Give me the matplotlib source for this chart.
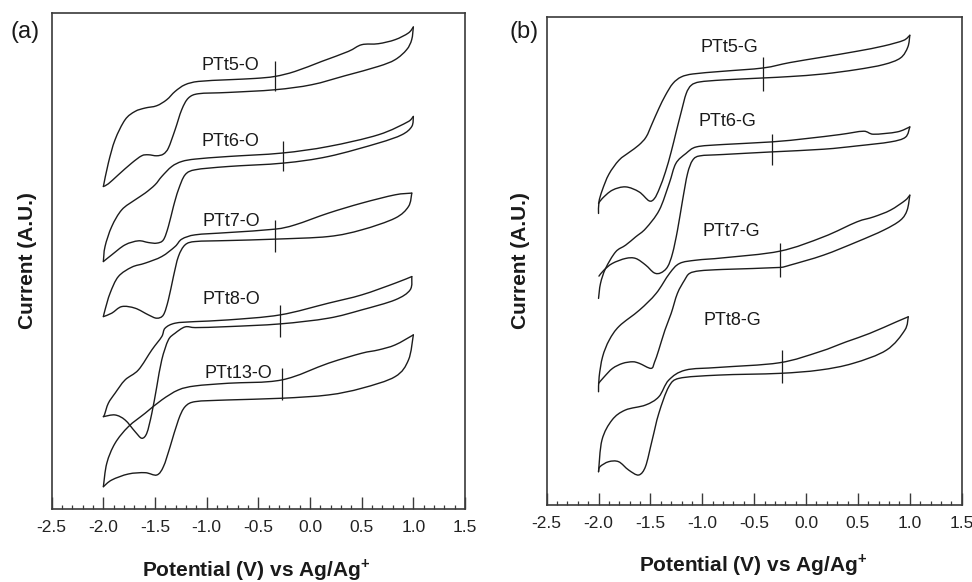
import numpy as np
import matplotlib
matplotlib.use("Agg")
import matplotlib.pyplot as plt
from matplotlib.ticker import MultipleLocator, FormatStrFormatter
from matplotlib.path import Path
from matplotlib.patches import PathPatch

plt.rcParams['font.family'] = ['Liberation Sans', 'DejaVu Sans']
plt.rcParams['mathtext.fontset'] = 'custom'
plt.rcParams['mathtext.rm'] = 'Liberation Sans'
plt.rcParams['mathtext.bf'] = 'Liberation Sans:bold'
plt.rcParams['axes.unicode_minus'] = False

# ---------------- Panel (a) data: potential (V) / current (A.U.) ----------------
ptt5_o_up_x = [-2.0, -1.952, -1.887, -1.79, -1.694, -1.597, -1.484, -1.387, -1.306, -1.21, -1.081, -0.79, -0.532, -0.339, -0.145, 0.113, 0.371, 0.5, 0.661, 0.823, 0.952, 1.0]
ptt5_o_up_y = [322.3, 345.7, 369, 389, 397.3, 400.7, 403, 409, 417.3, 424, 427.3, 429, 430.3, 432.3, 437.3, 447.3, 457.3, 464, 465, 469, 475.7, 481.7]
ptt5_o_dn_x = [1.0, 0.984, 0.935, 0.823, 0.661, 0.339, 0.016, -0.339, -0.79, -1.081, -1.177, -1.242, -1.306, -1.371, -1.419, -1.484, -1.565, -1.629, -1.726, -1.855, -1.952, -2.0]
ptt5_o_dn_y = [481.7, 469, 459, 449, 442.3, 433, 424, 419, 416.3, 415, 410.7, 399, 379, 360.7, 354.7, 353, 354, 353, 345.7, 334, 325, 322.3]

ptt6_o_up_x = [-2.0, -1.984, -1.919, -1.822, -1.693, -1.596, -1.5, -1.435, -1.338, -1.241, -1.112, -0.79, -0.273, 0.178, 0.662, 0.953, 1.0]
ptt6_o_up_y = [247.3, 262.3, 282.3, 299, 309, 315.7, 324, 332.3, 342.3, 347.3, 349.7, 352.3, 355.7, 362.3, 374, 387.3, 392.3]
ptt6_o_dn_x = [1.0, 0.985, 0.889, 0.662, 0.178, -0.258, -0.79, -1.112, -1.209, -1.274, -1.322, -1.371, -1.419, -1.483, -1.564, -1.661, -1.79, -1.919, -2.0]
ptt6_o_dn_y = [392.3, 382.3, 374, 365.7, 352.3, 345.7, 342.3, 339, 334, 319, 302.3, 282.3, 269, 265.7, 266.3, 268, 264, 254, 247.3]

ptt7_o_up_x = [-2.0, -1.984, -1.935, -1.855, -1.725, -1.596, -1.435, -1.306, -1.241, -1.112, -0.79, -0.338, -0.144, 0.178, 0.501, 0.824, 0.985]
ptt7_o_up_y = [192.3, 199, 215.7, 232.3, 241.7, 245.7, 252.3, 262.3, 269.7, 274, 276.3, 279.7, 284, 295.7, 305.7, 314, 315.7]
ptt7_o_dn_x = [0.985, 0.953, 0.824, 0.501, 0.178, -0.338, -0.79, -1.112, -1.209, -1.274, -1.322, -1.371, -1.419, -1.483, -1.564, -1.693, -1.822, -1.919, -2.0]
ptt7_o_dn_y = [315.7, 302.3, 290.7, 279, 272.3, 269.7, 268.3, 267.3, 264, 252.3, 232.3, 209, 194, 190.7, 194, 200.7, 202.3, 195.7, 192.3]

ptt8_o_up_x = [-2.0, -1.99, -1.952, -1.887, -1.79, -1.661, -1.531, -1.435, -1.403, -1.306, -1.112, -0.79, -0.289, 0.178, 0.501, 0.824, 0.985]
ptt8_o_up_y = [92.3, 94, 105.7, 115.7, 129, 139, 159, 172.3, 180.7, 185.7, 187.3, 189, 194, 205.7, 214, 225.7, 232.3]
ptt8_o_dn_x = [0.985, 0.969, 0.824, 0.501, 0.178, -0.289, -0.79, -1.112, -1.209, -1.306, -1.371, -1.435, -1.483, -1.531, -1.58, -1.628, -1.693, -1.79, -1.887, -2.0]
ptt8_o_dn_y = [232.3, 219, 209, 199, 190.7, 185, 182.3, 181.3, 182, 175.7, 169, 149, 122.3, 95.7, 75.7, 70.7, 77.3, 89, 94, 92.3]

ptt13_o_up_x = [-2.0, -1.967, -1.887, -1.758, -1.596, -1.435, -1.274, -1.112, -0.79, -0.273, 0.178, 0.501, 0.662, 0.824, 1.0]
ptt13_o_up_y = [22.3, 45.7, 65.7, 82.3, 95.7, 109, 119, 123, 125.7, 129, 145.7, 155.7, 159, 164, 174]
ptt13_o_dn_x = [1.0, 0.953, 0.824, 0.501, 0.178, -0.273, -0.79, -1.112, -1.209, -1.274, -1.354, -1.419, -1.483, -1.596, -1.758, -1.919, -2.0]
ptt13_o_dn_y = [174, 149, 132.3, 120.7, 114, 110.7, 109, 107.3, 102.3, 89, 62.3, 42.3, 34, 36.3, 35, 29, 22.3]

labels_a = ["PTt5-O", "PTt6-O", "PTt7-O", "PTt8-O", "PTt13-O"]
label_a_x = [-0.773, -0.773, -0.757, -0.757, -0.693]
label_a_y = [443, 367.3, 287.3, 209, 135.7]
marker_a_x = [-0.338, -0.258, -0.338, -0.289, -0.273]
marker_a_lo = [417.3, 337.3, 257.3, 172.3, 109]
marker_a_hi = [447.3, 367.3, 289, 204, 140.7]

# ---------------- Panel (b) data ----------------
ptt5_g_up_x = [-2.0, -1.996, -1.964, -1.9, -1.803, -1.703, -1.613, -1.541, -1.483, -1.419, -1.355, -1.284, -1.203, -1.09, -0.8, -0.413, -0.155, 0.168, 0.49, 0.748, 0.942, 1.0]
ptt5_g_up_y = [291.7, 303.3, 315, 331, 345, 353, 360, 368.3, 381.7, 396.7, 410, 421.7, 428.3, 431.3, 434, 437.3, 442.7, 448.3, 454, 459.3, 465, 470]
ptt5_g_dn_x = [1.0, 0.981, 0.91, 0.748, 0.49, 0.168, -0.155, -0.413, -0.8, -1.026, -1.106, -1.155, -1.203, -1.252, -1.3, -1.355, -1.413, -1.461, -1.512, -1.609, -1.739, -1.867, -1.964, -2.0]
ptt5_g_dn_y = [470, 458.3, 447.3, 440.7, 435.7, 431.3, 428.7, 427.3, 425.3, 423.3, 420, 411.7, 393.3, 373.3, 353.3, 333.3, 316.7, 306.7, 304.3, 313.3, 318.3, 315, 306.7, 301.7]

ptt6_g_up_x = [-2.0, -1.981, -1.932, -1.835, -1.739, -1.642, -1.545, -1.415, -1.319, -1.255, -1.158, -1.057, -0.8, -0.332, 0.007, 0.329, 0.555, 0.649, 0.878, 1.0]
ptt6_g_up_y = [206.7, 221.7, 236.7, 253.3, 260, 268.3, 276.7, 295, 321.7, 341.7, 351.7, 358.3, 360.7, 363.3, 366.7, 370.7, 374, 371, 373.3, 378.3]
ptt6_g_dn_x = [1.0, 0.958, 0.813, 0.491, 0.168, -0.332, -0.8, -1.025, -1.093, -1.142, -1.19, -1.239, -1.287, -1.335, -1.4, -1.464, -1.545, -1.642, -1.739, -1.867, -1.948, -1.996]
ptt6_g_dn_y = [378.3, 368, 363.3, 359.3, 356, 353.3, 350.7, 349.3, 345, 331.7, 305, 275, 251.7, 238.3, 232.3, 232.3, 240, 246.7, 246.7, 241.7, 235, 229]

ptt7_g_up_x = [-2.0, -1.994, -1.961, -1.897, -1.8, -1.606, -1.445, -1.316, -1.219, -1.058, -0.8, -0.252, 0.168, 0.49, 0.652, 0.813, 0.958, 1.0]
ptt7_g_up_y = [113.3, 128.3, 148.3, 165, 179, 195, 211.7, 231.7, 241.7, 245, 247.3, 254, 268.3, 283.3, 288.3, 295, 305, 310]
ptt7_g_dn_x = [1.0, 0.974, 0.91, 0.748, 0.49, 0.168, -0.155, -0.252, -0.8, -1.026, -1.123, -1.171, -1.24, -1.30, -1.36, -1.42, -1.46, -1.494, -1.606, -1.671, -1.768, -1.865, -1.945, -2.0]
ptt7_g_dn_y = [310, 295, 285, 275, 263.3, 250, 240, 237.7, 235.7, 234.3, 231.7, 225, 211.7, 191.7, 175, 155, 143, 136.7, 141.7, 143.3, 141.7, 136.7, 128.3, 121.7]

ptt8_g_up_x = [-2.0, -1.967, -1.870, -1.742, -1.548, -1.419, -1.323, -1.161, -0.839, -0.258, 0.129, 0.388, 0.613, 0.871, 0.985]
ptt8_g_up_y = [33.3, 65, 85, 95, 100, 108.3, 125, 135, 137.7, 142.3, 153.3, 163.3, 171.7, 183.3, 188.3]
ptt8_g_dn_x = [0.985, 0.952, 0.775, 0.452, 0.129, -0.258, -0.839, -1.226, -1.323, -1.419, -1.483, -1.548, -1.613, -1.710, -1.806, -1.903, -1.986, -2.0]
ptt8_g_dn_y = [188.3, 175, 155, 141.7, 135, 131.7, 130, 126.7, 118.3, 91.7, 65, 38.3, 30, 35, 43.3, 43.3, 38.3, 33.3]

labels_b = ["PTt5-G", "PTt6-G", "PTt7-G", "PTt8-G"]
label_b_x = [-0.742, -0.757, -0.725, -0.709]
label_b_y = [458, 383.3, 273.3, 185]
marker_b_x = [-0.413, -0.332, -0.255, -0.23]
marker_b_lo = [414.3, 340, 228.3, 121.7]
marker_b_hi = [448.3, 371.7, 261.7, 155]

x_major = [-2.5, -2.0, -1.5, -1.0, -0.5, 0.0, 0.5, 1.0, 1.5]

LINE = '#1c1c1c'
SPINE = '#3a3a3a'
SX = 103.3  # approx pixels per volt, only used to balance smoothing handles

fig = plt.figure(figsize=(9.72, 5.82), dpi=100)
axL = fig.add_axes([0.0532, 0.1254, 0.4252, 0.8528])
axR = fig.add_axes([0.5624, 0.1323, 0.4270, 0.8380])


def style(ax, ytop):
    ax.set_xlim(-2.5, 1.5)
    ax.set_ylim(0, ytop)
    ax.set_xticks(x_major)
    ax.xaxis.set_minor_locator(MultipleLocator(0.1))
    ax.xaxis.set_major_formatter(FormatStrFormatter('%.1f'))
    ax.set_yticks([])
    ax.tick_params(axis='x', which='major', direction='in', length=9, width=1.0,
                   color=SPINE, labelsize=12.5, pad=8, top=False, labelcolor='#222222')
    ax.tick_params(axis='x', which='minor', direction='in', length=3.2, width=0.9,
                   color=SPINE, top=False)
    for s in ax.spines.values():
        s.set_color(SPINE)
        s.set_linewidth(1.2)


def smooth_branch(ax, xs, ys):
    """Draw a branch as a smooth curve passing through the read points."""
    P = np.column_stack([np.asarray(xs, float) * SX, np.asarray(ys, float)])
    n = len(P)
    verts = [P[0]]
    codes = [Path.MOVETO]
    for i in range(n - 1):
        p0 = P[i - 1] if i > 0 else P[i]
        p1, p2 = P[i], P[i + 1]
        p3 = P[i + 2] if i + 2 < n else P[i + 1]
        d = np.linalg.norm(p2 - p1)
        t1 = (p2 - p0) / 6.0
        t2 = (p3 - p1) / 6.0
        for t in (t1, t2):
            L = np.linalg.norm(t)
            if L > 0.45 * d and L > 0:
                t *= 0.45 * d / L
        verts += [p1 + t1, p2 - t2, p2]
        codes += [Path.CURVE4] * 3
    V = np.array(verts)
    V[:, 0] /= SX
    ax.add_patch(PathPatch(Path(V, codes), fill=False, ec=LINE, lw=1.0,
                           joinstyle='round', capstyle='round'))


def loop(ax, ux, uy, dx, dy):
    smooth_branch(ax, ux, uy)
    smooth_branch(ax, dx, dy)


style(axL, 496)
style(axR, 488)

loop(axL, ptt5_o_up_x, ptt5_o_up_y, ptt5_o_dn_x, ptt5_o_dn_y)
loop(axL, ptt6_o_up_x, ptt6_o_up_y, ptt6_o_dn_x, ptt6_o_dn_y)
loop(axL, ptt7_o_up_x, ptt7_o_up_y, ptt7_o_dn_x, ptt7_o_dn_y)
loop(axL, ptt8_o_up_x, ptt8_o_up_y, ptt8_o_dn_x, ptt8_o_dn_y)
loop(axL, ptt13_o_up_x, ptt13_o_up_y, ptt13_o_dn_x, ptt13_o_dn_y)
axL.vlines(marker_a_x, marker_a_lo, marker_a_hi, color=LINE, lw=0.9)
for t, x, y in zip(labels_a, label_a_x, label_a_y):
    axL.text(x, y, t, ha='center', va='center', fontsize=13, color='#1a1a1a')

loop(axR, ptt5_g_up_x, ptt5_g_up_y, ptt5_g_dn_x, ptt5_g_dn_y)
loop(axR, ptt6_g_up_x, ptt6_g_up_y, ptt6_g_dn_x, ptt6_g_dn_y)
loop(axR, ptt7_g_up_x, ptt7_g_up_y, ptt7_g_dn_x, ptt7_g_dn_y)
loop(axR, ptt8_g_up_x, ptt8_g_up_y, ptt8_g_dn_x, ptt8_g_dn_y)
axR.vlines(marker_b_x, marker_b_lo, marker_b_hi, color=LINE, lw=0.9)
for t, x, y in zip(labels_b, label_b_x, label_b_y):
    axR.text(x, y, t, ha='center', va='center', fontsize=13, color='#1a1a1a')

xlab = r"Potential (V) vs Ag/Ag$^{\mathbf{+}}$"
fig.text(0.264, 0.0206, xlab, ha='center', va='center', fontsize=15, fontweight='bold', color='#1a1a1a')
fig.text(0.775, 0.0292, xlab, ha='center', va='center', fontsize=15, fontweight='bold', color='#1a1a1a')
fig.text(0.0288, 0.5515, "Current (A.U.)", rotation=90, ha='center', va='center', fontsize=15, fontweight='bold', color='#1a1a1a')
fig.text(0.536, 0.5515, "Current (A.U.)", rotation=90, ha='center', va='center', fontsize=15, fontweight='bold', color='#1a1a1a')
fig.text(0.0257, 0.945, "(a)", ha='center', va='center', fontsize=17, color='#1a1a1a')
fig.text(0.5394, 0.9455, "(b)", ha='center', va='center', fontsize=17, color='#1a1a1a')

fig.savefig("out.png", dpi=100)
